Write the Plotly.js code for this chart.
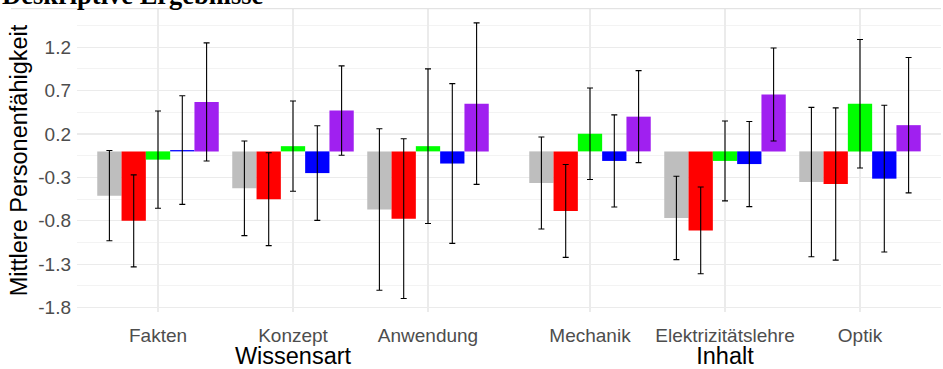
<!DOCTYPE html>
<html>
<head>
<meta charset="utf-8">
<script src="https://cdn.plot.ly/plotly-3.0.1.min.js"></script>
<style>html,body{margin:0;padding:0;background:#fff;}#chart{width:943px;height:369px;}</style>
</head>
<body>
<div id="chart"></div>
<script>
// Categories for the two facets
const catWissensart = ['Fakten', 'Konzept', 'Anwendung'];
const catInhalt = ['Mechanik', 'Elektrizitätslehre', 'Optik'];
const facetTitles = ['Wissensart', 'Inhalt'];

// Series (order: Fakten, Konzept, Anwendung, Mechanik, Elektrizitätslehre, Optik)
const seriesNames = ['Gruppe 1', 'Gruppe 2', 'Gruppe 3', 'Gruppe 4', 'Gruppe 5'];
const seriesColors = ['#BEBEBE', '#FF0000', '#00FF00', '#0000FF', '#A020F0'];

const meanGray   = [-0.51, -0.425, -0.67, -0.364, -0.767, -0.353];
const meanRed    = [-0.80, -0.55, -0.775, -0.686, -0.91, -0.376];
const meanGreen  = [-0.095, 0.06, 0.06, 0.203, -0.11, 0.548];
const meanBlue   = [0.015, -0.25, -0.14, -0.11, -0.146, -0.314];
const meanPurple = [0.57, 0.47, 0.55, 0.40, 0.655, 0.302];

const errGray   = [0.52, 0.545, 0.93, 0.53, 0.48, 0.86];
const errRed    = [0.53, 0.535, 0.92, 0.535, 0.50, 0.877];
const errGreen  = [0.56, 0.52, 0.89, 0.527, 0.46, 0.74];
const errBlue   = [0.625, 0.545, 0.92, 0.53, 0.49, 0.845];
const errPurple = [0.68, 0.515, 0.93, 0.53, 0.535, 0.78];

const yTickVals = [-1.8, -1.3, -0.8, -0.3, 0.2, 0.7, 1.2];
const yTickText = ['-1.8', '-1.3', '-0.8', '-0.3', '0.2', '0.7', '1.2'];

const means = [meanGray, meanRed, meanGreen, meanBlue, meanPurple];
const errs = [errGray, errRed, errGreen, errBlue, errPurple];

const traces = [];
means.forEach((m, i) => {
  [[catWissensart, 0, 'x'], [catInhalt, 3, 'x2']].forEach(([cats, off, xa]) => {
    traces.push({
      type: 'bar',
      name: seriesNames[i],
      x: cats,
      y: m.slice(off, off + 3),
      xaxis: xa,
      yaxis: 'y',
      marker: {color: seriesColors[i], line: {width: 0}},
      error_y: {type: 'data', array: errs[i].slice(off, off + 3), visible: true,
                color: '#000000', thickness: 1.1, width: 3},
      showlegend: false,
      hoverinfo: 'x+y'
    });
  });
});

const tickFont = {family: 'Liberation Sans, Arial, sans-serif', size: 19, color: '#4D4D4D'};
const titleFont = {family: 'Liberation Sans, Arial, sans-serif', size: 23.5, color: '#000000'};

const xBase = {
  type: 'category',
  range: [-0.6, 2.6],
  showgrid: true,
  gridcolor: '#EBEBEB',
  gridwidth: 1.1,
  zeroline: false,
  showline: false,
  ticks: '',
  tickfont: tickFont,
  ticklabelstandoff: 10,
  fixedrange: true
};

const layout = {
  width: 943,
  height: 369,
  margin: {l: 77, r: 2, t: 9, b: 57},
  paper_bgcolor: '#FFFFFF',
  plot_bgcolor: '#FFFFFF',
  barmode: 'group',
  bargap: 0.1,
  bargroupgap: 0,
  font: {family: 'Liberation Sans, Arial, sans-serif'},
  xaxis: Object.assign({}, xBase, {domain: [0, 0.5], anchor: 'y',
    title: {text: facetTitles[0], font: titleFont, standoff: 0}}),
  xaxis2: Object.assign({}, xBase, {domain: [0.5, 1], anchor: 'y',
    title: {text: facetTitles[1], font: titleFont, standoff: 0}}),
  yaxis: {
    range: [-1.85, 1.64],
    tickmode: 'array',
    tickvals: yTickVals,
    ticktext: yTickText,
    showgrid: true,
    gridcolor: '#EBEBEB',
    gridwidth: 1.1,
    minor: {tickmode: 'linear', tick0: -1.8, dtick: 0.25, showgrid: true, gridcolor: '#F3F3F3', gridwidth: 1, ticks: ''},
    zeroline: false,
    showline: false,
    ticks: '',
    tickfont: tickFont,
    ticklabelstandoff: 5,
    title: {text: 'Mittlere Personenfähigkeit', font: titleFont, standoff: 4},
    fixedrange: true
  },
  shapes: [{
    type: 'line', xref: 'paper', yref: 'paper',
    x0: -66 / 864, x1: 1, y0: 1.001, y1: 1.001,
    line: {color: '#DDDDDD', width: 1}
  }],
  annotations: [{
    text: '<b>Deskriptive Ergebnisse</b>',
    xref: 'paper', yref: 'paper',
    x: -77 / 864, y: 1, xanchor: 'left', yanchor: 'bottom',
    yshift: -3, showarrow: false,
    font: {family: 'Liberation Serif, Times New Roman, serif', size: 26.5, color: '#000000'}
  }]
};

Plotly.newPlot('chart', traces, layout, {displayModeBar: false, staticPlot: true});
</script>
</body>
</html>
